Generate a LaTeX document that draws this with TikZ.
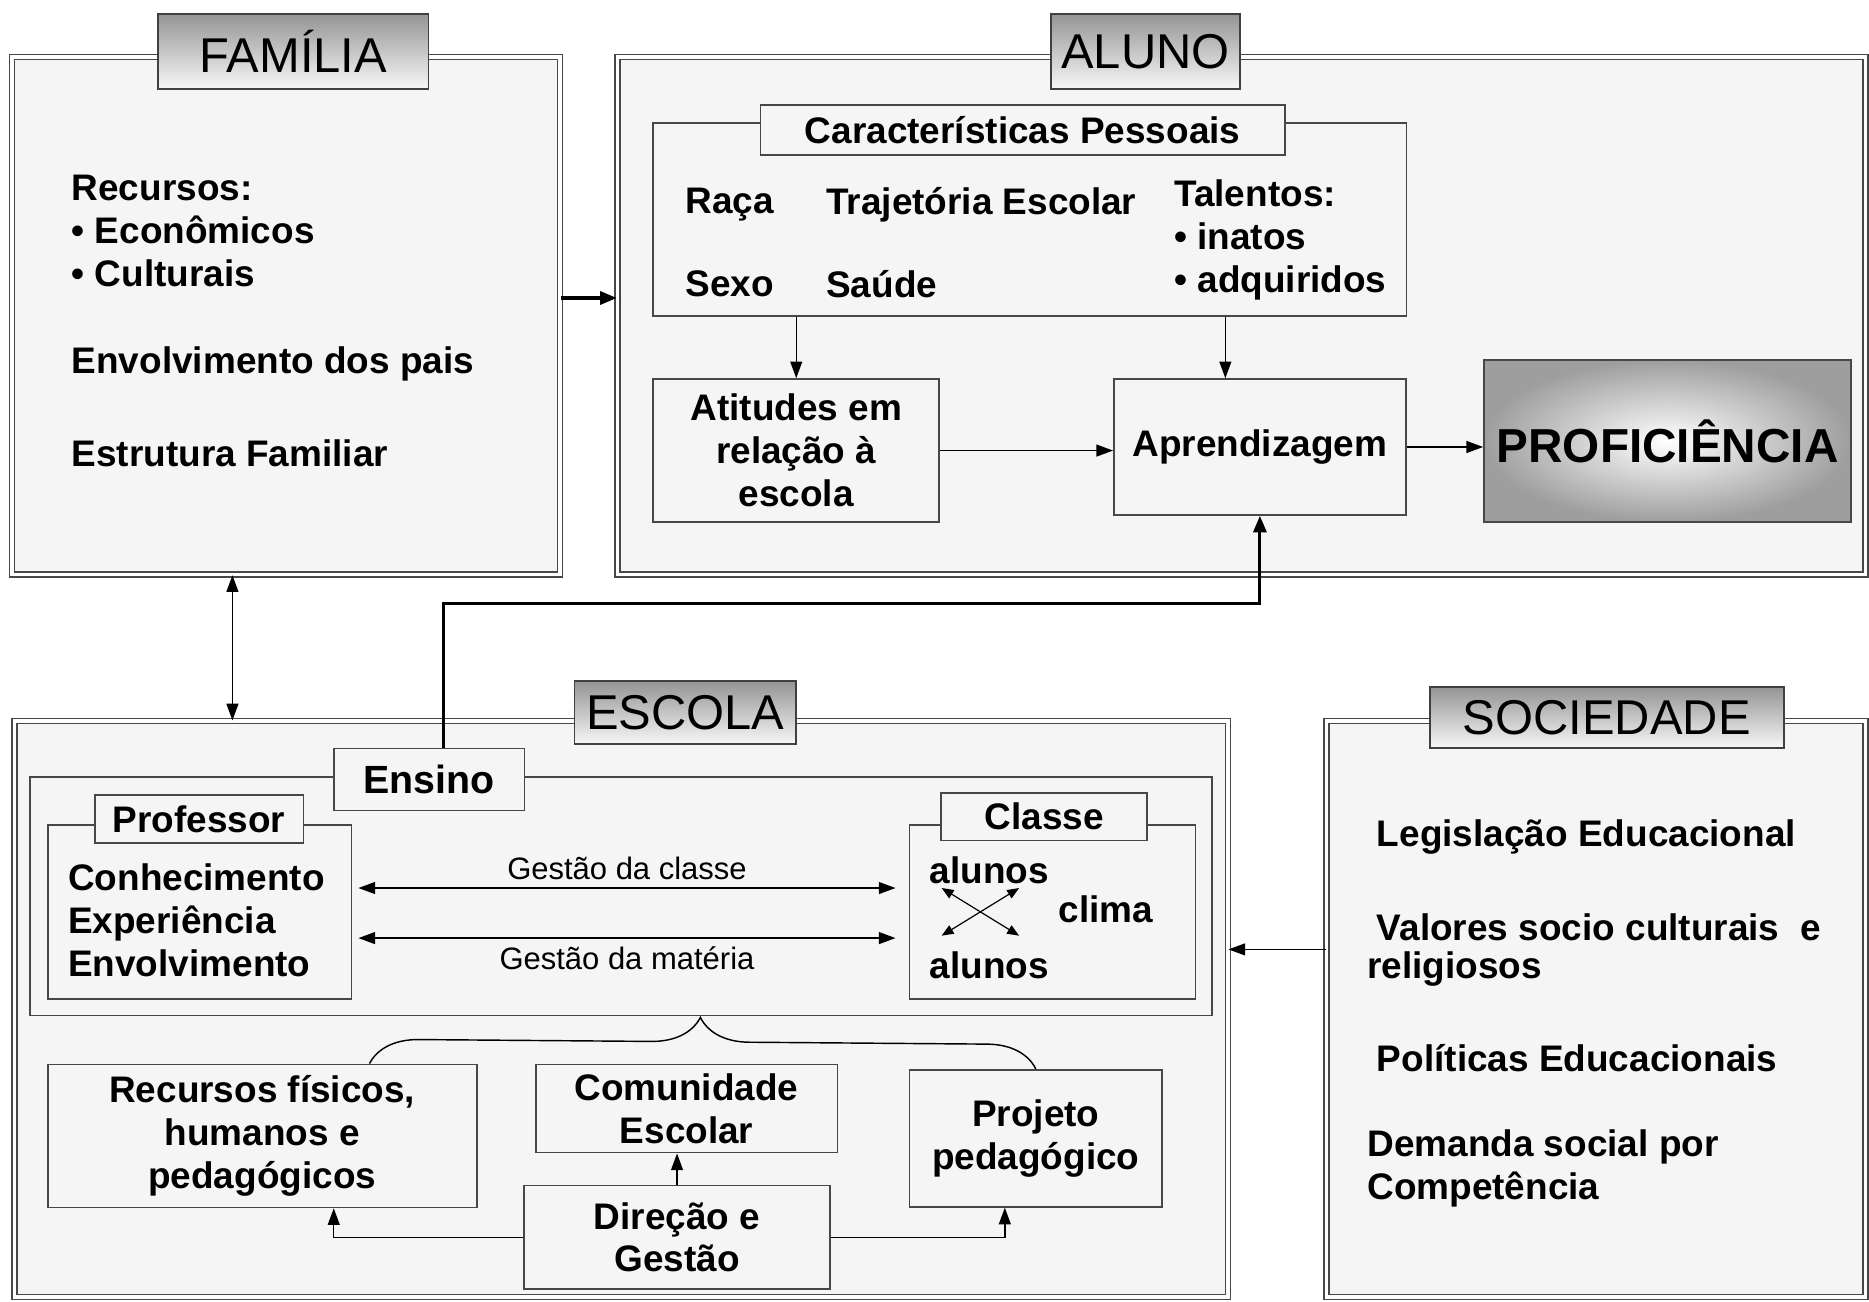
\documentclass[tikz,border=0pt]{standalone}
\usepackage{fontspec}
\setmainfont{Liberation Sans}
\usepackage{tikz}
\usetikzlibrary{arrows.meta,decorations.pathreplacing}
\tikzstyle{outer frame}=[draw=black!72,line width=1.2pt,double=white,double distance=3pt,fill=black!4,inner sep=0pt]
\tikzstyle{title tab}=[draw=black!75,line width=1.5pt,top color=black!42,bottom color=black!3,font=\fontsize{41}{46}\selectfont,inner sep=0pt]
\tikzstyle{inner box}=[draw=black!72,line width=1.4pt,fill=black!4,inner sep=0pt,align=center,font=\fontsize{31}{36}\selectfont\bfseries]
\tikzstyle{txt}=[font=\fontsize{31}{36}\selectfont\bfseries,align=left,anchor=west,inner sep=0pt]
\tikzstyle{weight}=[font=\fontsize{26}{30}\selectfont]
\tikzstyle{arrow}=[draw,line width=1.2pt,-{Triangle[length=14pt,width=10pt]}]
\tikzstyle{both arrow}=[draw,line width=1.2pt,{Triangle[length=14pt,width=10pt]}-{Triangle[length=14pt,width=10pt]}]
\tikzstyle{small arrow}=[draw,line width=1pt,{Triangle[length=10pt,width=8pt]}-{Triangle[length=10pt,width=8pt]}]
\tikzstyle{thick arrow}=[draw,line width=2.6pt,-{Triangle[length=14pt,width=11pt]}]
\begin{document}
\begin{tikzpicture}[x=1pt,y=-1pt]
    \fill[white] (0,0) rectangle (1568,1092);
    \useasboundingbox (0,0) rectangle (1568,1092);
    \node[outer frame,minimum width=460pt,minimum height=434pt] (familia) at (240,265) {};
    \node[outer frame,minimum width=1047pt,minimum height=434pt] (aluno) at (1041.5,265) {};
    \node[outer frame,minimum width=1018pt,minimum height=483pt] (escola) at (521,846.5) {};
    \node[outer frame,minimum width=452pt,minimum height=483pt] (sociedade) at (1339,846.5) {};
    \foreach \pos/\name/\w/\h/\lbl in {{(246,43)/famtab/227/63/FAMÍLIA}, {(961,43)/alutab/158/63/ALUNO}, {(575,598)/esctab/186/53/ESCOLA}, {(1348,602)/soctab/297/51/SOCIEDADE}}
        \node[title tab,minimum width=\w pt,minimum height=\h pt] (\name) at \pos {\lbl};
    \node[txt] (recursos fam) at (60,194) {Recursos:\\• Econômicos\\• Culturais};
    \node[txt] (pais) at (60,305) {Envolvimento dos pais};
    \node[txt] (estrutura) at (60,380) {Estrutura Familiar};
    \node[inner box,minimum width=632pt,minimum height=162pt] (caract) at (864,184) {};
    \node[inner box,minimum width=440pt,minimum height=42pt] (caracttab) at (858,109) {Características Pessoais};
    \foreach \pos/\name/\lbl in {{(575,172)/raca/Raça}, {(693,172)/traj/Trajetória Escolar}, {(575,238)/sexo/Sexo}, {(693,238)/saude/Saúde}}
        \node[txt] (\name) at \pos {\lbl};
    \node[txt] (talentos) at (985,201) {Talentos:\\• inatos\\• adquiridos};
    \node[inner box,minimum width=240pt,minimum height=120pt] (atitudes) at (668,378) {Atitudes em\\relação à\\escola};
    \node[inner box,minimum width=245pt,minimum height=114pt] (aprend) at (1057,375) {Aprendizagem};
    \node[inner box,inner color=white,outer color=black!38,minimum width=308pt,minimum height=136pt,font=\fontsize{40}{46}\selectfont\bfseries] (prof) at (1399,370) {PROFICIÊNCIA};
    \path[arrow] (caract.south -| atitudes.north) -- (atitudes.north);
    \path[arrow] ([xshift=-29pt]aprend.north |- caract.south) -- ([xshift=-29pt]aprend.north);
    \path[arrow] (atitudes.east) -- (atitudes.east -| aprend.west);
    \path[arrow] (aprend.east) -- (aprend.east -| prof.west);
    \path[thick arrow] ([yshift=15pt]familia.east) -- ([yshift=15pt]aluno.west);
    \path[both arrow] ([xshift=-45pt]familia.south) -- ([xshift=-45pt]familia.south |- escola.north);
    \node[inner box,minimum width=992pt,minimum height=200pt] (ensino) at (521,752) {};
    \node[inner box,minimum width=160pt,minimum height=52pt,font=\fontsize{33}{38}\selectfont\bfseries] (ensinotab) at (360,654) {Ensino};
    \node[inner box,minimum width=255pt,minimum height=146pt] (professor) at (167.5,765) {};
    \node[inner box,minimum width=175pt,minimum height=40pt] (professortab) at (167,687) {Professor};
    \node[txt] (saberes) at (57,772) {Conhecimento\\Experiência\\Envolvimento};
    \node[inner box,minimum width=240pt,minimum height=146pt] (classe) at (883,765) {};
    \node[inner box,minimum width=173pt,minimum height=40pt] (classetab) at (876,685) {Classe};
    \node[txt] (alunos1) at (780,730) {alunos};
    \node[txt] (alunos2) at (780,810) {alunos};
    \node[txt] (clima) at (888,763) {clima};
    \coordinate (x1) at (790,745);
    \coordinate (x2) at (855,785);
    \coordinate (x3) at (855,745);
    \coordinate (x4) at (790,785);
    \path[small arrow] (x1) -- (x2);
    \path[small arrow] (x3) -- (x4);
    \path[both arrow] ([yshift=20pt,xshift=5pt]professor.east) -- node[weight,above=3pt] {Gestão da classe} ([yshift=20pt,xshift=-11pt]classe.west);
    \path[both arrow] ([yshift=-22pt,xshift=5pt]professor.east) -- node[weight,below=3pt] {Gestão da matéria} ([yshift=-22pt,xshift=-11pt]classe.west);
    \node[inner box,minimum width=360pt,minimum height=120pt] (recursos) at (220,953) {Recursos físicos,\\humanos e\\pedagógicos};
    \node[inner box,minimum width=253pt,minimum height=74pt] (comunidade) at (576,930) {Comunidade\\Escolar};
    \node[inner box,minimum width=212pt,minimum height=115pt] (projeto) at (869,955) {Projeto\\pedagógico};
    \node[inner box,minimum width=257pt,minimum height=87pt] (direcao) at (568,1038) {Direção e\\Gestão};
    \draw[line width=1.2pt,decorate,decoration={brace,amplitude=41pt,aspect=0.496}] ([xshift=90pt]recursos.north) -- (projeto.north);
    \path[arrow] (direcao.north) -- (direcao.north |- comunidade.south);
    \path[arrow] (direcao.west) -| ([xshift=60pt]recursos.south);
    \path[arrow] (direcao.east) -| ([xshift=-26pt]projeto.south);
    \path[thick arrow] ([xshift=12pt]ensinotab.north) -- ++(0,-121) -| (aprend.south);
    \node[txt] (legislacao) at (1155,702) {Legislação Educacional};
    \node[txt] (valores) at (1155,778) {Valores socio culturais~ e};
    \node[txt] (religiosos) at (1147,813) {religiosos};
    \node[txt] (politicas) at (1155,888) {Políticas Educacionais};
    \node[txt] (demanda) at (1147,980) {Demanda social por\\Competência};
    \path[arrow] ([yshift=50pt]sociedade.west) -- ([yshift=50pt]sociedade.west -| escola.east);
\end{tikzpicture}
\end{document}
